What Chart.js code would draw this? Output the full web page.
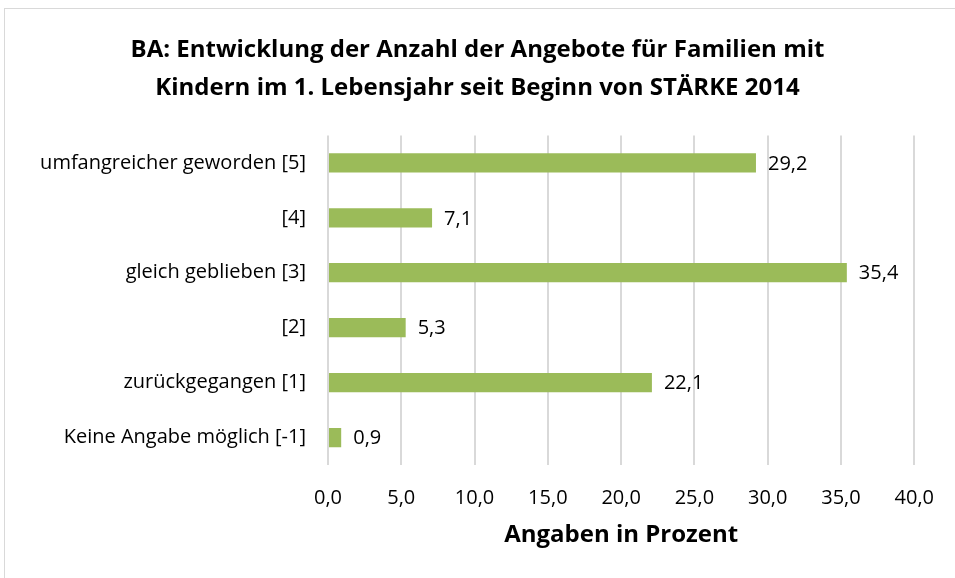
<!DOCTYPE html>
<html>
<head>
<meta charset="utf-8">
<script src="https://cdn.jsdelivr.net/npm/chart.js@4"></script>
<style>
  html, body { margin: 0; padding: 0; background: #fff; }
  #wrap { width: 955px; height: 578px; position: relative; }
</style>
</head>
<body>
<div id="wrap"><canvas id="grafico" width="955" height="578"></canvas></div>
<script>
// Dados do gráfico
const kategorien = [
    'umfangreicher geworden [5]',
    '[4]',
    'gleich geblieben [3]',
    '[2]',
    'zurückgegangen [1]',
    'Keine Angabe möglich [-1]'
];
const werte = [29.2, 7.1, 35.4, 5.3, 22.1, 0.9];
const titelZeilen = [
    'BA: Entwicklung der Anzahl der Angebote für Familien mit',
    'Kindern im 1. Lebensjahr seit Beginn von STÄRKE 2014'
];
const achsenTitel = 'Angaben in Prozent';

const schrift = 'Open Sans';

// Formatar número com vírgula
function formatarZahl(v) {
    return Number(v).toFixed(1).replace('.', ',');
}

// Plugin: moldura e rótulos de valores
const extras = {
    id: 'extras',
    beforeDraw(chart) {
        const ctx = chart.ctx;
        ctx.save();
        ctx.strokeStyle = '#d9d9d9';
        ctx.lineWidth = 1;
        ctx.strokeRect(4.5, 8.5, 1000, 1000);
        ctx.restore();
    },
    afterDatasetsDraw(chart) {
        const ctx = chart.ctx;
        const meta = chart.getDatasetMeta(0);
        ctx.save();
        ctx.font = '20px ' + schrift;
        ctx.fillStyle = '#000';
        ctx.textAlign = 'left';
        ctx.textBaseline = 'middle';
        meta.data.forEach((bar, i) => {
            ctx.fillText(formatarZahl(werte[i]), bar.x + 12, bar.y + 1);
        });
        ctx.restore();
    }
};

new Chart(document.getElementById('grafico'), {
    type: 'bar',
    data: {
        labels: kategorien,
        datasets: [{
            data: werte,
            backgroundColor: '#9bbb59',
            barPercentage: 0.7,
            categoryPercentage: 0.5
        }]
    },
    options: {
        indexAxis: 'y',
        responsive: false,
        animation: false,
        layout: { padding: { top: 0, right: 28, bottom: 28, left: 28 } },
        plugins: {
            legend: { display: false },
            tooltip: { enabled: false },
            title: {
                display: true,
                text: titelZeilen,
                color: '#000',
                font: { family: schrift, size: 24, weight: 'bold', lineHeight: 1.55 },
                padding: { top: 32, bottom: 29 }
            }
        },
        scales: {
            x: {
                min: 0,
                max: 40,
                afterFit(scale) { scale.height = 85; },
                ticks: {
                    stepSize: 5,
                    color: '#000',
                    padding: 21,
                    font: { family: schrift, size: 20 },
                    callback: v => formatarZahl(v)
                },
                grid: { color: '#d9d9d9', lineWidth: 2, drawTicks: false },
                border: { display: false },
                title: {
                    display: true,
                    text: achsenTitel,
                    color: '#000',
                    font: { family: schrift, size: 24, weight: 'bold' },
                    padding: { top: 0, bottom: 0 }
                }
            },
            y: {
                afterFit(scale) { scale.width = 300; },
                ticks: {
                    color: '#000',
                    padding: 22,
                    font: { family: schrift, size: 20 }
                },
                grid: { display: false, drawTicks: false },
                border: { display: false }
            }
        }
    },
    plugins: [extras]
});
</script>
</body>
</html>
